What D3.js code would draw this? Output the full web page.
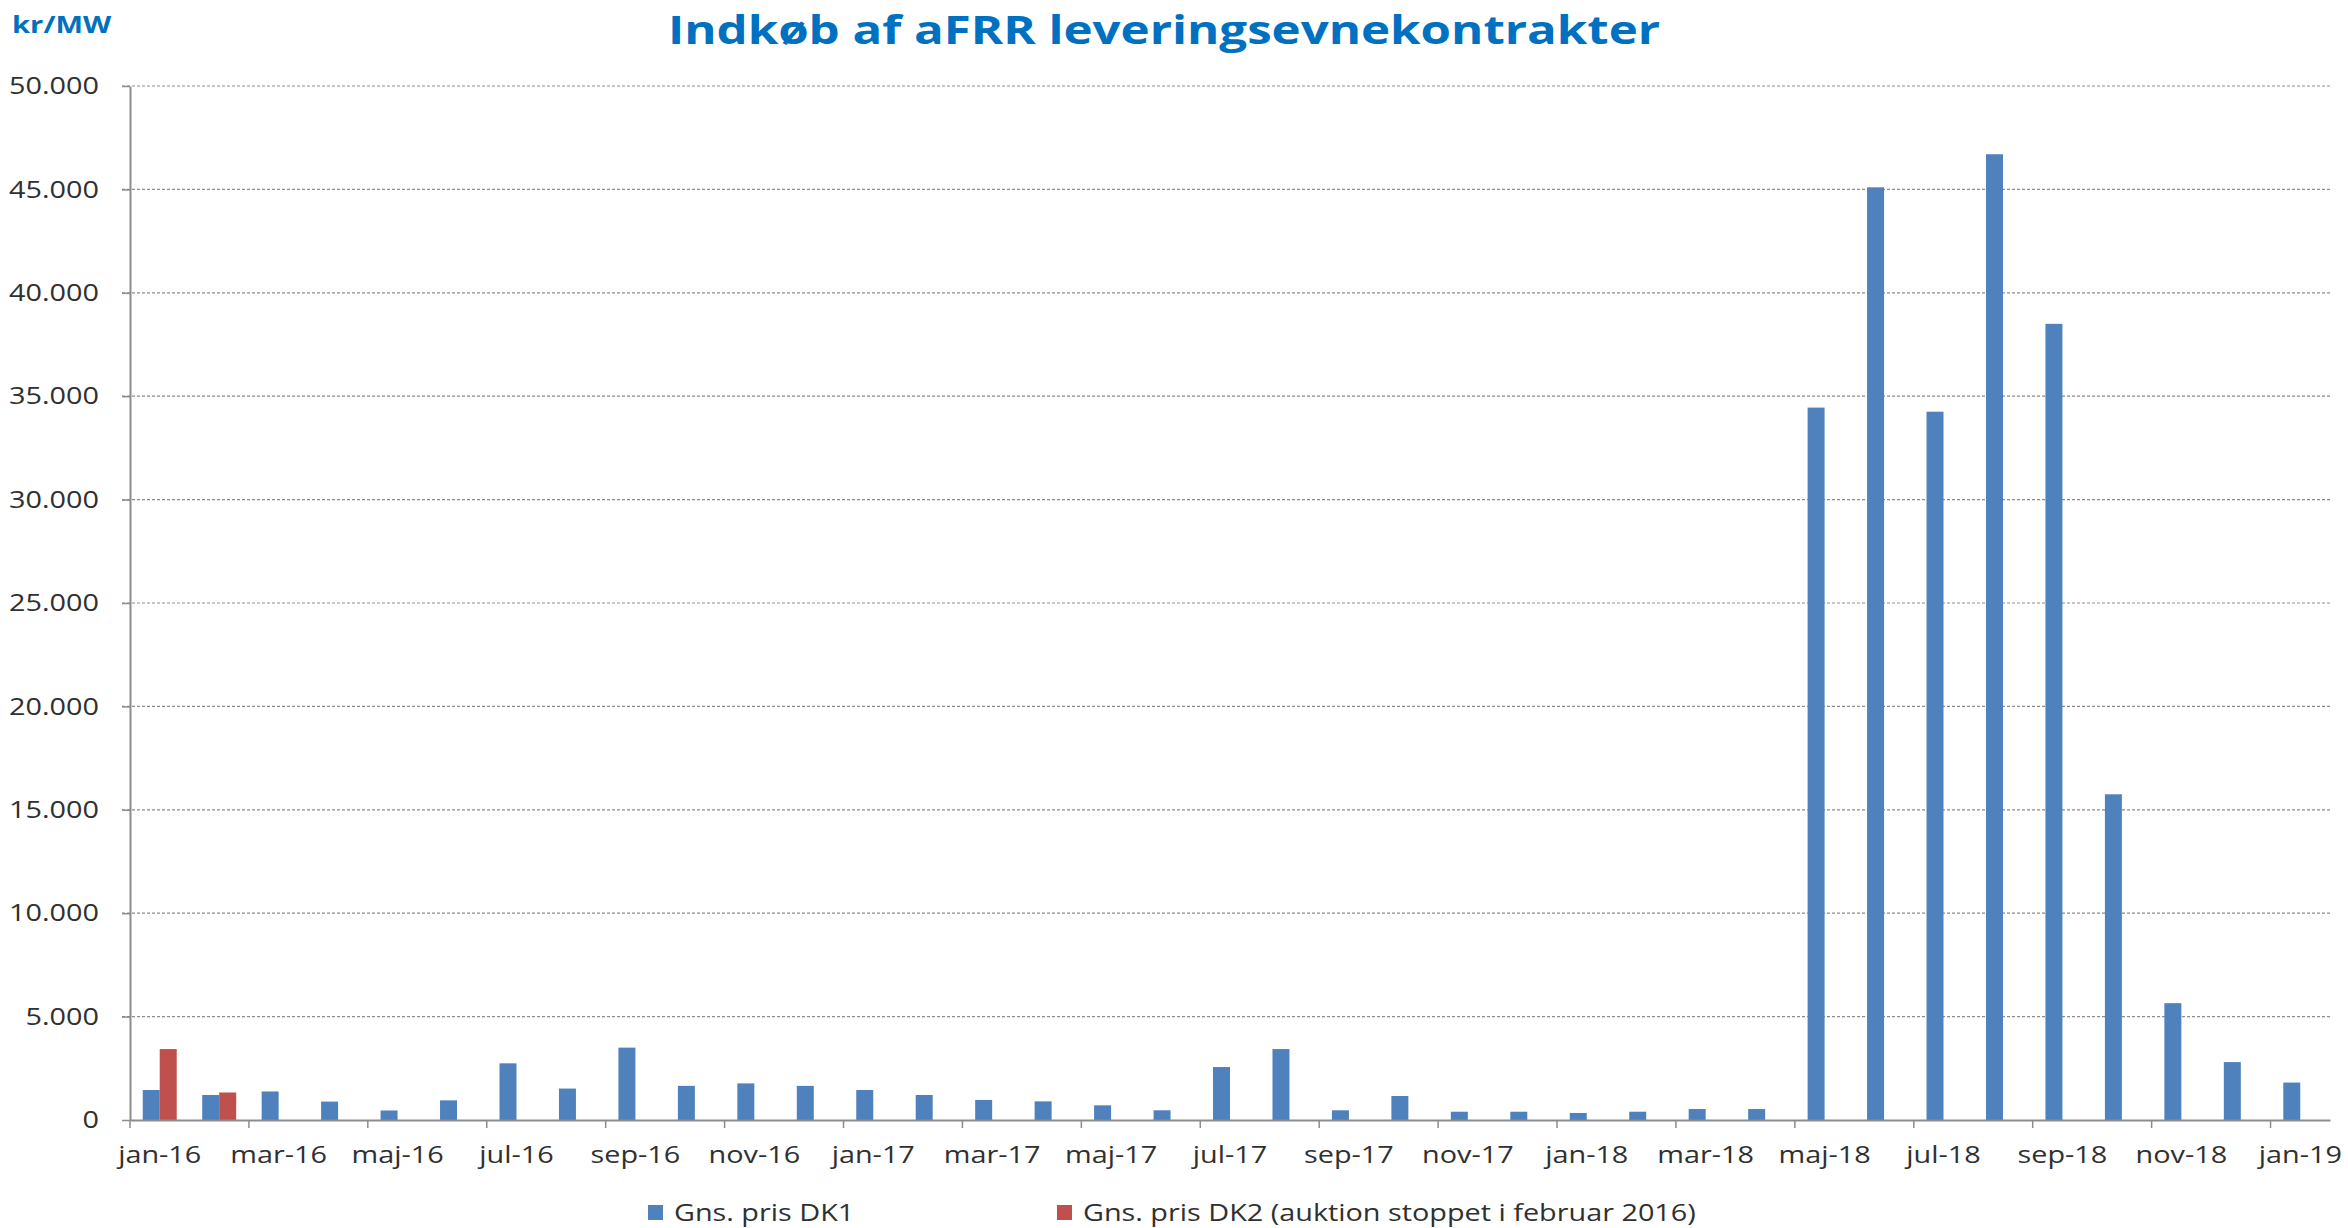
<!DOCTYPE html>
<html>
<head>
<meta charset="utf-8">
<script src="https://cdn.jsdelivr.net/npm/d3@7"></script>
<style>
    body { margin: 0; background: #fff; }
    text { font-family: "Open Sans", "DejaVu Sans", sans-serif; }
</style>
</head>
<body>
<div id="chart"></div>
<script>
// Monthly categories, jan-16 .. jan-19
const months = [
    "jan-16", "feb-16", "mar-16", "apr-16", "maj-16", "jun-16", "jul-16", "aug-16", "sep-16", "okt-16", "nov-16", "dec-16",
    "jan-17", "feb-17", "mar-17", "apr-17", "maj-17", "jun-17", "jul-17", "aug-17", "sep-17", "okt-17", "nov-17", "dec-17",
    "jan-18", "feb-18", "mar-18", "apr-18", "maj-18", "jun-18", "jul-18", "aug-18", "sep-18", "okt-18", "nov-18", "dec-18",
    "jan-19"
];

// Gns. pris DK1 (kr/MW)
const dk1 = [
    1450, 1210, 1380, 890, 460, 950, 2740, 1520, 3500, 1650, 1770, 1650,
    1450, 1210, 970, 900, 710, 470, 2560, 3430, 470, 1160, 400, 400,
    340, 400, 530, 530, 34450, 45100, 34250, 46700, 38500, 15750, 5650, 2800,
    1810
];

// Gns. pris DK2 - auction stopped in February 2016
const dk2 = [3430, 1330];

const seriesNames = ["Gns. pris DK1", "Gns. pris DK2 (auktion stoppet i februar 2016)"];
const seriesColors = ["#4F81BD", "#C0504D"];
const yTicks = [0, 5000, 10000, 15000, 20000, 25000, 30000, 35000, 40000, 45000, 50000];

const width = 2348;
const height = 1228;
const margin = { top: 86, right: 18, bottom: 108, left: 130 };

const locale = d3.formatLocale({ decimal: ",", thousands: ".", grouping: [3], currency: ["", " kr"] });
const fmt = locale.format(",.0f");

// glyphs in the original are drawn a bit wider than the fonts we have
function widen(sel, k) {
    sel.each(function () {
        const w = this.getComputedTextLength();
        d3.select(this).attr("textLength", w * k).attr("lengthAdjust", "spacingAndGlyphs");
    });
}

const svg = d3.select("#chart").append("svg")
    .attr("width", width)
    .attr("height", height);

const x0 = d3.scaleBand()
    .domain(months)
    .range([margin.left, width - margin.right])
    .paddingInner(0)
    .paddingOuter(0);

const x1 = d3.scaleBand()
    .domain([0, 1])
    .range([0, x0.bandwidth()])
    .paddingInner(0)
    .paddingOuter(0.75);

const y = d3.scaleLinear()
    .domain([0, 50000])
    .range([height - margin.bottom, margin.top]);

// Gridlines
svg.append("g")
    .selectAll("line")
    .data(yTicks.filter(d => d > 0))
    .join("line")
    .attr("x1", margin.left - 8)
    .attr("x2", width - margin.right)
    .attr("y1", d => y(d))
    .attr("y2", d => y(d))
    .attr("stroke", "#8c8c8c")
    .attr("stroke-width", 1.2)
    .attr("stroke-dasharray", "3,2");

// Bars
const rows = months.map((m, i) => ({ month: m, values: [dk1[i], dk2[i]] }));

svg.append("g")
    .selectAll("g")
    .data(rows)
    .join("g")
    .attr("transform", d => `translate(${x0(d.month)},0)`)
    .selectAll("rect")
    .data(d => d.values.map((v, s) => ({ s, v })).filter(d => d.v != null))
    .join("rect")
    .attr("x", d => x1(d.s))
    .attr("width", x1.bandwidth())
    .attr("y", d => y(d.v))
    .attr("height", d => y(0) - y(d.v))
    .attr("fill", d => seriesColors[d.s]);

// Y axis
const yAxis = svg.append("g")
    .attr("transform", `translate(${margin.left},0)`)
    .call(d3.axisLeft(y).tickValues(yTicks).tickFormat(fmt).tickSize(8).tickSizeOuter(0).tickPadding(23));

yAxis.select(".domain").attr("stroke", "#8c8c8c").attr("stroke-width", 2);
yAxis.selectAll(".tick line").attr("stroke", "#8c8c8c").attr("stroke-width", 1.5);
yAxis.selectAll(".tick text")
    .attr("fill", "#303030")
    .style("font-size", "24px")
    .call(widen, 1.2);

// X axis: labels on every second month, ticks on the category boundaries
const labelMonths = months.filter((m, i) => i % 2 === 0);

const xAxis = svg.append("g")
    .attr("transform", `translate(0,${y(0)})`)
    .call(d3.axisBottom(x0).tickValues(labelMonths).tickSize(0).tickSizeOuter(0).tickPadding(26));

xAxis.select(".domain").attr("stroke", "#8c8c8c").attr("stroke-width", 2);
xAxis.selectAll(".tick text")
    .attr("fill", "#303030")
    .style("font-size", "24px")
    .call(widen, 1.2);

xAxis.append("g")
    .selectAll("line")
    .data(labelMonths)
    .join("line")
    .attr("x1", d => x0(d))
    .attr("x2", d => x0(d))
    .attr("y1", 0)
    .attr("y2", 8)
    .attr("stroke", "#8c8c8c")
    .attr("stroke-width", 1.5);

// Title and unit
svg.append("text")
    .attr("x", 1164)
    .attr("y", 44)
    .attr("text-anchor", "middle")
    .attr("fill", "#0070C0")
    .style("font-size", "40px")
    .style("font-weight", "bold")
    .text("Indkøb af aFRR leveringsevnekontrakter")
    .call(widen, 1.23);

svg.append("text")
    .attr("x", 12)
    .attr("y", 33)
    .attr("fill", "#0070C0")
    .style("font-size", "23px")
    .style("font-weight", "bold")
    .text("kr/MW")
    .call(widen, 1.27);

// Legend
const legendX = [648, 1057];
const legend = svg.append("g");

seriesNames.forEach((name, i) => {
    const g = legend.append("g").attr("transform", `translate(${legendX[i]}, 1213)`);
    g.append("rect")
        .attr("x", 0)
        .attr("y", -8)
        .attr("width", 15)
        .attr("height", 15)
        .attr("fill", seriesColors[i]);
    g.append("text")
        .attr("x", 26)
        .attr("y", 8)
        .attr("fill", "#303030")
        .style("font-size", "24px")
        .text(name)
        .call(widen, 1.2);
});
</script>
</body>
</html>
